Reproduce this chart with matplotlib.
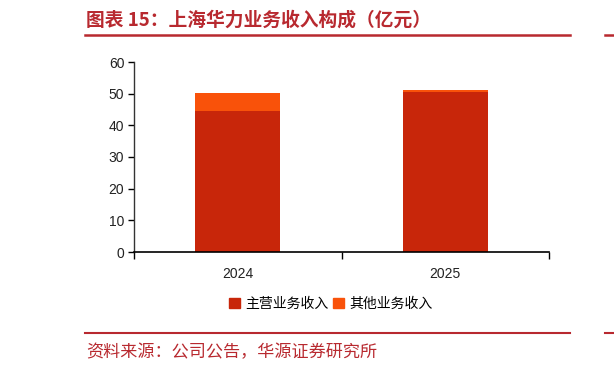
import matplotlib
matplotlib.use("Agg")
import matplotlib.pyplot as plt
from matplotlib.patches import Rectangle
from matplotlib.lines import Line2D

plt.rcParams['font.family'] = ['Noto Sans CJK SC', 'DejaVu Sans']

categories = ["2024", "2025"]
main_rev = [44.5, 50.6]
other_rev = [5.7, 0.7]
series_names = ["主营业务收入", "其他业务收入"]
yticks = [0, 10, 20, 30, 40, 50, 60]

c_main = "#C8260A"
c_other = "#F9520A"
c_red = "#B8292F"

fig = plt.figure(figsize=(6.14, 3.72), dpi=100)
ax = fig.add_axes([134/614, 1-252/372, (549-134)/614, (252-62)/372])

x = list(range(len(categories)))
ax.bar(x, main_rev, width=0.41, color=c_main, label=series_names[0])
ax.bar(x, other_rev, bottom=main_rev, width=0.41, color=c_other, label=series_names[1])

ax.set_xlim(-0.5, len(categories) - 0.5)
ax.set_ylim(0, 60)
ax.set_yticks(yticks)
ax.set_xticks(x)
ax.set_xticklabels(categories)
ax.set_xticks([i - 0.5 for i in range(len(categories) + 1)], minor=True)
ax.tick_params(axis='x', which='major', length=0, pad=11, labelsize=10, colors='#222222')
ax.tick_params(axis='x', which='minor', length=5, width=1, direction='out', color='black')
ax.tick_params(axis='y', length=4, width=1, direction='out', labelsize=10, colors='#222222', pad=3)
ax.tick_params(axis='y', color='black')
for lbl in ax.get_xticklabels() + ax.get_yticklabels():
    lbl.set_family('Liberation Sans')
for s in ['top', 'right']:
    ax.spines[s].set_visible(False)
ax.spines['left'].set_color('#333333')
ax.spines['bottom'].set_color('black')
ax.spines['left'].set_linewidth(1)
ax.spines['bottom'].set_linewidth(1.2)

# legend
handles = [Rectangle((0, 0), 1, 1, color=c_main), Rectangle((0, 0), 1, 1, color=c_other)]
fig.legend(handles, series_names, loc='center', bbox_to_anchor=(331/614, 1-304/372),
           ncol=2, frameon=False, fontsize=10, handlelength=0.8, handleheight=0.8,
           handletextpad=0.4, columnspacing=0.3)

# title
fig.text(86/614, 1-20/372, "图表 15：上海华力业务收入构成（亿元）", fontsize=13.5,
         fontweight='bold', color=c_red, va='center', ha='left')
fig.add_artist(Line2D([85/614, 570/614], [1-35/372, 1-35/372], color=c_red, lw=1.8))
fig.add_artist(Line2D([605/614, 614/614], [1-35/372, 1-35/372], color=c_red, lw=1.8))
fig.add_artist(Line2D([85/614, 570/614], [1-333/372, 1-333/372], color=c_red, lw=1.5))
fig.add_artist(Line2D([605/614, 614/614], [1-333/372, 1-333/372], color=c_red, lw=1.5))
fig.text(86/614, 1-352/372, "资料来源：公司公告，华源证券研究所", fontsize=12.3,
         color=c_red, va='center', ha='left', fontweight='light')

fig.savefig("out.png", dpi=100)
